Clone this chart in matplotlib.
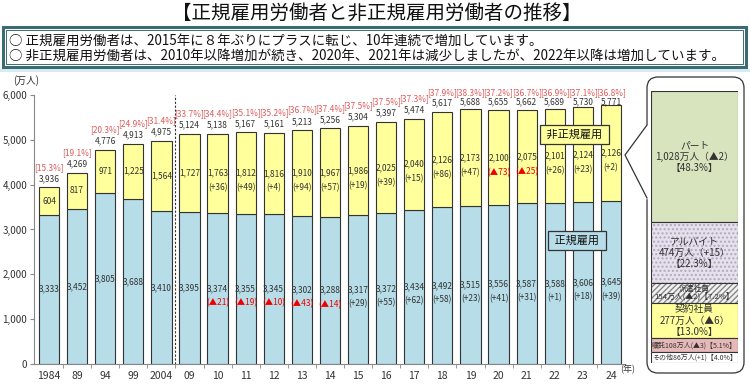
import numpy as np
import matplotlib.pyplot as plt
from matplotlib.patches import Rectangle, FancyBboxPatch

plt.rcParams['font.family'] = ['Noto Sans CJK JP', 'DejaVu Sans']

years = ["1984", "89", "94", "99", "2004", "09", "10", "11", "12", "13", "14",
         "15", "16", "17", "18", "19", "20", "21", "22", "23", "24"]
regular = [3333, 3452, 3805, 3688, 3410, 3395, 3374, 3355, 3345, 3302, 3288,
           3317, 3372, 3434, 3492, 3515, 3556, 3587, 3588, 3606, 3645]
nonregular = [604, 817, 971, 1225, 1564, 1727, 1763, 1812, 1816, 1910, 1967,
              1986, 2025, 2040, 2126, 2173, 2100, 2075, 2101, 2124, 2126]
totals = [3936, 4269, 4776, 4913, 4975, 5124, 5138, 5167, 5161, 5213, 5256,
          5304, 5397, 5474, 5617, 5688, 5655, 5662, 5689, 5730, 5771]
pct = [15.3, 19.1, 20.3, 24.9, 31.4, 33.7, 34.4, 35.1, 35.2, 36.7, 37.4,
       37.5, 37.5, 37.3, 37.9, 38.3, 37.2, 36.7, 36.9, 37.1, 36.8]
# year-on-year changes (None = not shown)
reg_change = [None] * 6 + [-21, -19, -10, -43, -14, 29, 55, 62, 58, 23, 41, 31, 1, 18, 39]
nonreg_change = [None] * 6 + [36, 49, 4, 94, 57, 19, 39, 15, 86, 47, -73, -25, 26, 23, 2]

# breakdown of non-regular workers in 2024
kinds = ["パート", "アルバイト", "派遣社員", "契約社員", "嘱託", "その他"]
kind_vals = [1028, 474, 154, 277, 108, 86]
kind_chg = ["▲2", "+15", "▲2", "▲6", "▲3", "+1"]
kind_pct = [48.3, 22.3, 7.2, 13.0, 5.1, 4.0]

BLUE = "#b7dde8"
YELLOW = "#ffff9c"
TXT = "#333333"
PCTRED = "#e05a5a"
RED = "#ee0000"

fig = plt.figure(figsize=(7.5, 3.87), dpi=100)

# overlay in pixel coords for decorations
deco = fig.add_axes([0, 0, 1, 1], zorder=0)
deco.set_xlim(0, 750)
deco.set_ylim(387, 0)
deco.axis("off")

deco.text(377, 13, "【正規雇用労働者と非正規雇用労働者の推移】", ha="center", va="center",
          fontsize=14, color="#111111")
deco.add_patch(Rectangle((3, 27), 743, 40, fill=False, ec="#3d6b73", lw=2.2))
deco.add_patch(Rectangle((6, 30), 737, 34, fill=False, ec="#3d6b73", lw=0.7))
deco.plot([0, 750], [70, 70], color="#d3eaf0", lw=2)
deco.text(9, 41, "○ 正規雇用労働者は、2015年に８年ぶりにプラスに転じ、10年連続で増加しています。",
          ha="left", va="center", fontsize=9.7, color="#111111")
deco.text(9, 56, "○ 非正規雇用労働者は、2010年以降増加が続き、2020年、2021年は減少しましたが、2022年以降は増加しています。",
          ha="left", va="center", fontsize=9.7, color="#111111")

# callout box for the breakdown
deco.add_patch(FancyBboxPatch((647, 77), 97, 296, boxstyle="round,pad=0,rounding_size=11",
                              fc="white", ec="#333333", lw=0.9))
deco.plot([647, 647], [126, 197], color="white", lw=2.5, zorder=3)
deco.plot([647, 625, 647], [125, 155, 198], color="#333333", lw=0.9, zorder=4)

# main chart
ax = fig.add_axes([34 / 750, 23 / 387, 591 / 750, 269 / 387], zorder=2)
ax.patch.set_alpha(0)
x = np.arange(len(years))
ax.bar(x, regular, width=0.72, color=BLUE, edgecolor="#333333", lw=0.8)
ax.bar(x, nonregular, width=0.72, bottom=regular, color=YELLOW, edgecolor="#333333", lw=0.8)
ax.axvline(4.5, ymin=0, ymax=1, color="#333333", ls=(0, (2, 1.5)), lw=0.8)

ax.set_xlim(-0.534, 20.5)
ax.set_ylim(0, 6000)
ax.set_yticks(range(0, 6001, 1000))
ax.set_yticklabels([f"{v:,}" for v in range(0, 6001, 1000)], fontsize=7, color=TXT)
ax.set_xticks(x)
ax.set_xticklabels(years, fontsize=7.5, color=TXT)
ax.set_xticks(x[:-1] + 0.5, minor=True)
ax.tick_params(axis="x", which="major", length=0, pad=5)
ax.tick_params(axis="x", which="minor", length=3, color="#888888")
ax.tick_params(axis="y", length=3, color="#888888", pad=2)
for s in ["top", "right"]:
    ax.spines[s].set_visible(False)
ax.spines["left"].set_color("#888888")
ax.spines["bottom"].set_color("#888888")

for i in x:
    r, n, t = regular[i], nonregular[i], totals[i]
    ax.text(i, r / 2, f"{r:,}", ha="center", va="center", fontsize=6, color=TXT)
    ax.text(i, r + n / 2, f"{n:,}", ha="center", va="center", fontsize=6, color=TXT)
    pct_y = min(t + 450, 6060)
    tot_y = min(t + 200, pct_y - 210)
    ax.text(i, pct_y, f"[{pct[i]}%]", ha="center", va="center", fontsize=6, color=PCTRED)
    ax.text(i, tot_y, f"{t:,}", ha="center", va="center", fontsize=6, color=TXT)
    if reg_change[i] is not None:
        c = reg_change[i]
        s, col = (f"(+{c})", TXT) if c >= 0 else (f"(▲{-c})", RED)
        ax.text(i, r / 2 - 310, s, ha="center", va="center", fontsize=6, color=col)
    if nonreg_change[i] is not None:
        c = nonreg_change[i]
        s, col = (f"(+{c})", TXT) if c >= 0 else (f"(▲{-c})", RED)
        ax.text(i, r + n / 2 - 330, s, ha="center", va="center", fontsize=6, color=col)

ax.text(18.7, 5110, " 非正規雇用 ", ha="center", va="center", fontsize=8, color="#111111",
        bbox=dict(boxstyle="square,pad=0.4", fc=YELLOW, ec="#333333", lw=0.9))
ax.text(18.8, 2750, " 正規雇用 ", ha="center", va="center", fontsize=8, color="#111111",
        bbox=dict(boxstyle="square,pad=0.4", fc=BLUE, ec="#333333", lw=0.9))
ax.text(-0.8, 6330, "(万人)", ha="center", va="center", fontsize=7, color=TXT)
ax.text(20.6, -120, "(年)", ha="center", va="center", fontsize=6.5, color=TXT)

# breakdown stacked bar
bx = fig.add_axes([651 / 750, 24 / 387, 87 / 750, 272 / 387], zorder=3)
bx.set_xlim(0, 1)
bx.set_ylim(0, sum(kind_vals))
bx.axis("off")
fills = ["#d7e4bd", "#e6e0ec", "#f2f2f2", YELLOW, "#e6b9b8", "white"]
hatches = [None, "....", "//////", None, None, None]
hcols = [None, "#b0a8c0", "#888888", None, None, None]
tops = np.cumsum(kind_vals[::-1])[::-1]
for k in range(len(kinds)):
    bot = tops[k] - kind_vals[k]
    bx.bar(0.5, kind_vals[k], width=1, bottom=bot, color=fills[k], lw=0)
    if hatches[k]:
        bx.bar(0.5, kind_vals[k], width=1, bottom=bot, fill=False, hatch=hatches[k],
               edgecolor=hcols[k], lw=0)
    bx.bar(0.5, kind_vals[k], width=1, bottom=bot, fill=False, edgecolor="#333333", lw=0.8)
    mid = bot + kind_vals[k] / 2
    if k in (0, 1, 3):
        label = f"{kinds[k]}\n{kind_vals[k]:,}万人（{kind_chg[k]}）\n【{kind_pct[k]}%】"
        bx.text(0.5, mid, label, ha="center", va="center", fontsize=7, color=TXT,
                linespacing=1.15)
    elif k == 2:
        label = f"{kinds[k]}\n{kind_vals[k]}万人({kind_chg[k]})【{kind_pct[k]}%】"
        bx.text(0.5, mid, label, ha="center", va="center", fontsize=5.6, color=TXT,
                linespacing=0.95)
    else:
        label = f"{kinds[k]}{kind_vals[k]}万人({kind_chg[k]})【{kind_pct[k]}%】"
        bx.text(0.5, mid, label, ha="center", va="center", fontsize=5, color=TXT)

fig.savefig("out.png", dpi=100)
